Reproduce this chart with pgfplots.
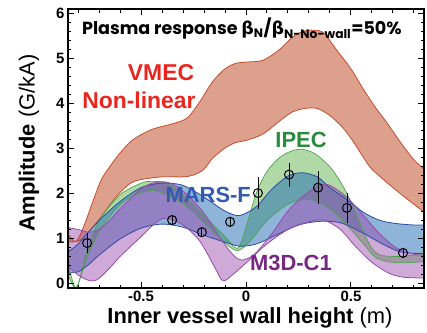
\documentclass[border=0pt]{standalone}
\usepackage{fontspec}
\setmainfont{Liberation Sans}
\newfontfamily\pop{Poppins}
\newfontfamily\grk{DejaVu Sans}
\usepackage{pgfplots}
\usepackage{pgfplotstable}
\pgfplotsset{compat=1.18}
\usepgfplotslibrary{fillbetween}

\definecolor{vfill}{RGB}{197,97,63}
\definecolor{vedge}{RGB}{200,75,45}
\definecolor{gfill}{RGB}{97,180,80}
\definecolor{gedge}{RGB}{75,165,75}
\definecolor{bfill}{RGB}{30,105,180}
\definecolor{bedge}{RGB}{45,75,165}
\definecolor{pfill}{RGB}{155,75,172}
\definecolor{pedge}{RGB}{150,75,170}
\definecolor{vtxt}{RGB}{232,38,30}
\definecolor{gtxt}{RGB}{40,140,60}
\definecolor{btxt}{RGB}{50,90,175}
\definecolor{ptxt}{RGB}{120,40,130}

% VMEC
\pgfplotstableread{
x y
-0.856 1.16
-0.82 0.94
-0.80 0.99
-0.77 1.30
-0.73 1.82
-0.69 2.30
-0.65 2.59
-0.60 2.90
-0.54 3.19
-0.45 3.42
-0.35 3.55
-0.28 3.68
-0.22 4.04
-0.16 4.48
-0.10 4.77
-0.05 4.89
0.00 4.92
0.08 4.96
0.16 5.20
0.22 5.47
0.27 5.60
0.32 5.63
0.37 5.57
0.43 5.20
0.50 4.77
0.56 4.31
0.62 3.89
0.67 3.58
0.74 3.11
0.80 2.75
0.856 2.51
}\vu
\pgfplotstableread{
x y
-0.856 0.92
-0.80 0.94
-0.76 1.09
-0.70 1.42
-0.65 1.74
-0.60 2.02
-0.55 2.23
-0.50 2.31
-0.40 2.37
-0.30 2.37
-0.25 2.41
-0.20 2.54
-0.16 2.78
-0.10 3.01
-0.05 3.13
0.00 3.18
0.08 3.32
0.16 3.61
0.22 3.81
0.28 3.89
0.34 3.89
0.40 3.73
0.46 3.47
0.51 3.16
0.56 2.80
0.60 2.54
0.70 2.13
0.80 1.76
0.856 1.56
}\vl
% IPEC
\pgfplotstableread{
x y
-0.856 0.62
-0.81 -0.10
-0.76 0.68
-0.70 1.40
-0.60 1.97
-0.50 2.23
-0.45 2.27
-0.38 2.23
-0.30 1.97
-0.20 1.51
-0.10 1.04
-0.04 0.78
0.00 1.25
0.05 2.02
0.10 2.49
0.16 2.80
0.22 2.95
0.27 2.98
0.33 2.88
0.40 2.59
0.46 2.18
0.51 1.71
0.56 1.14
0.60 0.78
0.64 0.63
0.72 0.60
0.80 0.63
0.856 0.65
}\gu
\pgfplotstableread{
x y
-0.856 0.30
-0.81 -0.10
-0.76 0.55
-0.70 1.15
-0.60 1.75
-0.50 2.02
-0.42 2.05
-0.30 1.78
-0.20 1.35
-0.10 0.90
-0.04 0.73
0.02 0.94
0.10 1.40
0.20 1.76
0.30 1.87
0.40 1.66
0.48 1.30
0.56 0.88
0.62 0.57
0.70 0.47
0.80 0.47
0.856 0.50
}\gl
% MARS-F
\pgfplotstableread{
x y
-0.856 0.68
-0.80 0.88
-0.70 1.40
-0.60 1.82
-0.50 2.13
-0.40 2.23
-0.30 2.18
-0.20 1.92
-0.10 1.61
-0.03 1.51
0.05 1.71
0.12 2.08
0.20 2.39
0.27 2.46
0.34 2.37
0.40 2.13
0.48 1.87
0.56 1.58
0.64 1.40
0.72 1.33
0.80 1.30
0.856 1.30
}\bu
\pgfplotstableread{
x y
-0.856 0.23
-0.80 0.26
-0.75 0.42
-0.70 0.63
-0.60 0.99
-0.50 1.23
-0.40 1.32
-0.30 1.25
-0.20 1.07
-0.10 0.92
-0.03 0.83
0.05 0.88
0.15 1.09
0.25 1.30
0.35 1.38
0.45 1.35
0.55 1.14
0.65 0.88
0.73 0.71
0.80 0.67
0.856 0.67
}\bl
% M3D-C1
\pgfplotstableread{
x y
-0.856 1.25
-0.80 1.20
-0.75 1.14
-0.70 1.20
-0.65 1.40
-0.60 1.66
-0.50 2.10
-0.43 2.25
-0.36 2.23
-0.28 1.97
-0.20 1.56
-0.12 0.99
-0.06 0.63
-0.02 0.52
0.04 0.65
0.12 1.09
0.20 1.61
0.28 1.97
0.35 2.18
0.40 2.18
0.48 1.92
0.56 1.51
0.64 1.09
0.72 0.78
0.80 0.65
0.856 0.63
}\pu
\pgfplotstableread{
x y
-0.856 0.42
-0.80 0.19
-0.75 0.07
-0.71 0.08
-0.65 0.34
-0.60 0.60
-0.50 1.04
-0.43 1.35
-0.38 1.45
-0.30 1.30
-0.22 0.94
-0.15 0.37
-0.11 0.06
-0.06 0.21
0.02 0.54
0.10 0.88
0.20 1.20
0.30 1.37
0.37 1.41
0.45 1.20
0.52 0.83
0.60 0.47
0.68 0.23
0.75 0.14
0.856 0.12
}\pl
% measurements
\pgfplotstableread{
x y e
-0.757 0.90 0.145
-0.352 1.41 0.05
-0.210 1.14 0.05
-0.076 1.37 0.05
0.057 2.01 0.28
0.205 2.42 0.20
0.343 2.13 0.30
0.481 1.68 0.26
0.748 0.68 0.05
}\pts

\begin{document}
\begin{tikzpicture}
\begin{axis}[
  at={(0,0)}, anchor=south west,
  scale only axis, width=356bp, height=279bp,
  xmin=-0.848, xmax=0.848, ymin=-0.1, ymax=6.1,
  axis on top,
  axis line style={line width=1.6bp},
  xtick={-0.5,0,0.5}, xticklabels={-0.5,0,0.5},
  minor xtick={-0.8,-0.7,-0.6,-0.4,-0.3,-0.2,-0.1,0.1,0.2,0.3,0.4,0.6,0.7,0.8},
  ytick={0,1,2,3,4,5,6},
  minor ytick={0.2,0.4,0.6,0.8,1.2,1.4,1.6,1.8,2.2,2.4,2.6,2.8,3.2,3.4,3.6,3.8,4.2,4.4,4.6,4.8,5.2,5.4,5.6,5.8},
  tick align=inside, tick pos=both,
  major tick length=6bp, minor tick length=3.5bp,
  every tick/.style={black, line width=1bp},
  tick label style={font=\bfseries\fontsize{15}{15}\selectfont},
  /pgf/number format/assume math mode=true,
  every axis x label/.style={at={(axis description cs:0.511,-0.1075)}, anchor=center},
  every axis y label/.style={at={(axis description cs:-0.1096,0.52)}, rotate=90, anchor=center},
  label style={font=\fontsize{22}{22}\selectfont},
  xlabel={\textbf{Inner vessel wall height} (m)},
  ylabel={\textbf{Amplitude} (G/kA)},
]
% VMEC
\addplot[name path=vu, draw=none, smooth, tension=0.5, forget plot] table {\vu};
\addplot[name path=vl, draw=none, smooth, tension=0.5, forget plot] table {\vl};
\addplot[fill=vfill, fill opacity=0.6, draw=none] fill between[of=vu and vl];
\addplot[draw=vedge, line width=0.8bp, smooth, tension=0.5] table {\vu};
\addplot[draw=vedge, line width=0.8bp, smooth, tension=0.5] table {\vl};
% IPEC
\addplot[name path=gu, draw=none, smooth, tension=0.5, forget plot] table {\gu};
\addplot[name path=gl, draw=none, smooth, tension=0.5, forget plot] table {\gl};
\addplot[fill=gfill, fill opacity=0.5, draw=none] fill between[of=gu and gl];
\addplot[draw=gedge, line width=0.7bp, smooth, tension=0.5] table {\gu};
\addplot[draw=gedge, line width=0.7bp, smooth, tension=0.5] table {\gl};
% MARS-F
\addplot[name path=bu, draw=none, smooth, tension=0.5, forget plot] table {\bu};
\addplot[name path=bl, draw=none, smooth, tension=0.5, forget plot] table {\bl};
\addplot[fill=bfill, fill opacity=0.5, draw=none] fill between[of=bu and bl];
\addplot[draw=bedge, line width=0.8bp, smooth, tension=0.5] table {\bu};
\addplot[draw=bedge, line width=0.8bp, smooth, tension=0.5] table {\bl};
% M3D-C1
\addplot[name path=pu, draw=none, smooth, tension=0.5, forget plot] table {\pu};
\addplot[name path=pl, draw=none, smooth, tension=0.5, forget plot] table {\pl};
\addplot[fill=pfill, fill opacity=0.48, draw=none] fill between[of=pu and pl];
\addplot[draw=pedge, line width=0.8bp, smooth, tension=0.5] table {\pu};
\addplot[draw=pedge, line width=0.8bp, smooth, tension=0.5] table {\pl};
% measurements
\addplot[only marks, mark=o, mark size=4.5bp, black, line width=1bp,
  error bars/.cd, y dir=both, y explicit,
  error bar style={line width=0.9bp},
  error mark options={mark size=3bp, line width=0.9bp}]
  table[x=x, y=y, y error=e] {\pts};
% labels
\node[anchor=base west, font=\pop\bfseries\fontsize{17.6}{17.6}\selectfont, inner sep=0pt]
  at (axis description cs:0.039,0.907)
  {Plasma response {\grk β}\textsubscript{N}/{\grk β}\textsubscript{N-No-wall}=50\%};
\node[text=vtxt, font=\bfseries\fontsize{23}{23}\selectfont] at (axis cs:-0.405,4.69) {VMEC};
\node[text=vtxt, font=\bfseries\fontsize{23}{23}\selectfont] at (axis cs:-0.51,4.08) {Non-linear};
\node[text=gtxt, font=\bfseries\fontsize{22}{22}\selectfont] at (axis cs:0.262,3.19) {IPEC};
\node[text=btxt, font=\bfseries\fontsize{22}{22}\selectfont] at (axis cs:-0.18,1.97) {MARS-F};
\node[text=ptxt, font=\bfseries\fontsize{22}{22}\selectfont] at (axis cs:0.214,0.45) {M3D-C1};
\end{axis}
\pgfresetboundingbox
\useasboundingbox (-68bp,-45bp) rectangle (359bp,288bp);
\end{tikzpicture}
\end{document}
